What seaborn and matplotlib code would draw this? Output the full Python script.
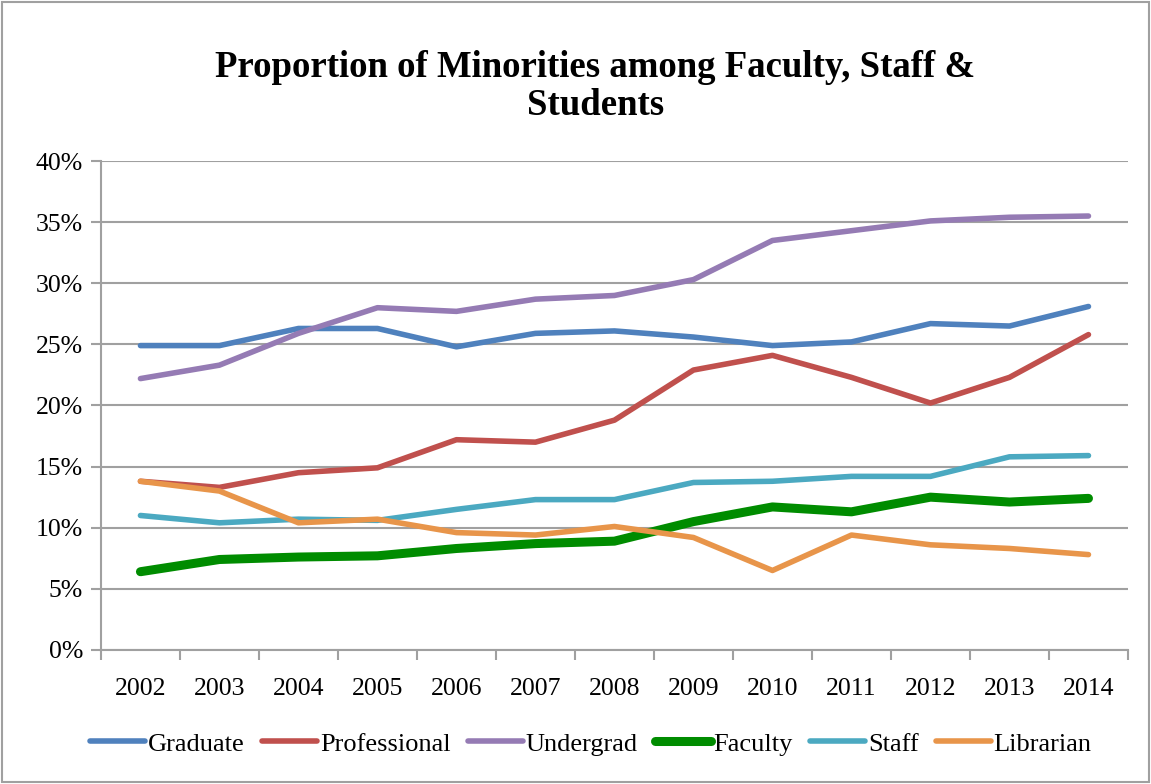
import matplotlib
matplotlib.use('Agg')
import matplotlib.pyplot as plt
import pandas as pd
import seaborn as sns
from matplotlib.patches import Rectangle
from matplotlib.ticker import FixedLocator, PercentFormatter

years = ['2002', '2003', '2004', '2005', '2006', '2007', '2008',
         '2009', '2010', '2011', '2012', '2013', '2014']

graduate = [24.9, 24.9, 26.3, 26.3, 24.8, 25.9, 26.1, 25.6, 24.9, 25.2, 26.7, 26.5, 28.1]
professional = [13.8, 13.3, 14.5, 14.9, 17.2, 17.0, 18.8, 22.9, 24.1, 22.3, 20.2, 22.3, 25.8]
undergrad = [22.2, 23.3, 25.9, 28.0, 27.7, 28.7, 29.0, 30.3, 33.5, 34.3, 35.1, 35.4, 35.5]
faculty = [6.4, 7.4, 7.6, 7.7, 8.3, 8.7, 8.9, 10.5, 11.7, 11.3, 12.5, 12.1, 12.4]
staff = [11.0, 10.4, 10.7, 10.6, 11.5, 12.3, 12.3, 13.7, 13.8, 14.2, 14.2, 15.8, 15.9]
librarian = [13.8, 13.0, 10.4, 10.7, 9.6, 9.4, 10.1, 9.2, 6.5, 9.4, 8.6, 8.3, 7.8]

series = {
    'Graduate': graduate,
    'Professional': professional,
    'Undergrad': undergrad,
    'Faculty': faculty,
    'Staff': staff,
    'Librarian': librarian,
}
colors = {
    'Graduate': '#4F81BD',
    'Professional': '#C0504D',
    'Undergrad': '#957BB4',
    'Faculty': '#008C00',
    'Staff': '#4BA9C1',
    'Librarian': '#E8954A',
}
widths = {'Faculty': 6.5}

sns.set_style('white')
plt.rcParams['font.family'] = ['Liberation Serif', 'DejaVu Serif']
plt.rcParams['text.color'] = 'black'
plt.rcParams['xtick.color'] = 'black'
plt.rcParams['ytick.color'] = 'black'

fig = plt.figure(figsize=(11.51, 7.84), dpi=100)
ax = fig.add_axes([0.0877, 0.171, 0.8923, 0.6236])

rows = []
for name, vals in series.items():
    for i, v in enumerate(vals):
        rows.append({'idx': i, 'value': v, 'series': name})
df = pd.DataFrame(rows)

for name in series:
    sub = df[df['series'] == name]
    sns.lineplot(data=sub, x='idx', y='value', ax=ax, color=colors[name],
                 linewidth=widths.get(name, 4.0), label=name,
                 solid_capstyle='round', solid_joinstyle='round')

ax.set_xlim(-0.5, len(years) - 0.5)
ax.set_ylim(0, 40)
ax.set_yticks(range(0, 41, 5))
ax.yaxis.set_major_formatter(PercentFormatter(decimals=0))
ax.set_xticks(range(len(years)))
ax.set_xticklabels(years)
ax.xaxis.set_minor_locator(FixedLocator([i - 0.5 for i in range(len(years) + 1)]))
ax.tick_params(axis='x', which='major', length=0, labelsize=18.5, pad=20)
ax.tick_params(axis='x', which='minor', length=7, width=1.5, color='#A0A0A0', direction='out', bottom=True)
ax.tick_params(axis='y', length=7, width=1.5, color='#A0A0A0', labelsize=18.5, pad=6,
               direction='out', left=True, labelcolor='black')
ax.tick_params(axis='x', labelcolor='black')
ax.set_xlabel('')
ax.set_ylabel('')

ax.grid(axis='y', color='#A0A0A0', linewidth=1.5)
ax.set_axisbelow(True)
for s in ['top', 'right']:
    ax.spines[s].set_visible(False)
for s in ['left', 'bottom']:
    ax.spines[s].set_color('#A0A0A0')
    ax.spines[s].set_linewidth(1.5)

fig.suptitle('Proportion of Minorities among Faculty, Staff &\nStudents',
             x=0.517, y=0.936, fontsize=26.5, fontweight='bold', linespacing=1.1,
             color='black')

leg = ax.legend(loc='center', bbox_to_anchor=(0.477, -0.192), ncol=6, frameon=False,
                fontsize=19, handlelength=2.1, handletextpad=0.1, columnspacing=0.65)
for t in leg.get_texts():
    t.set_color('black')

fig.patches.append(Rectangle((0.002, 0.002), 0.996, 0.996, transform=fig.transFigure,
                             fill=False, edgecolor='#A0A0A0', linewidth=1.5))

fig.savefig('out.png', dpi=100)
